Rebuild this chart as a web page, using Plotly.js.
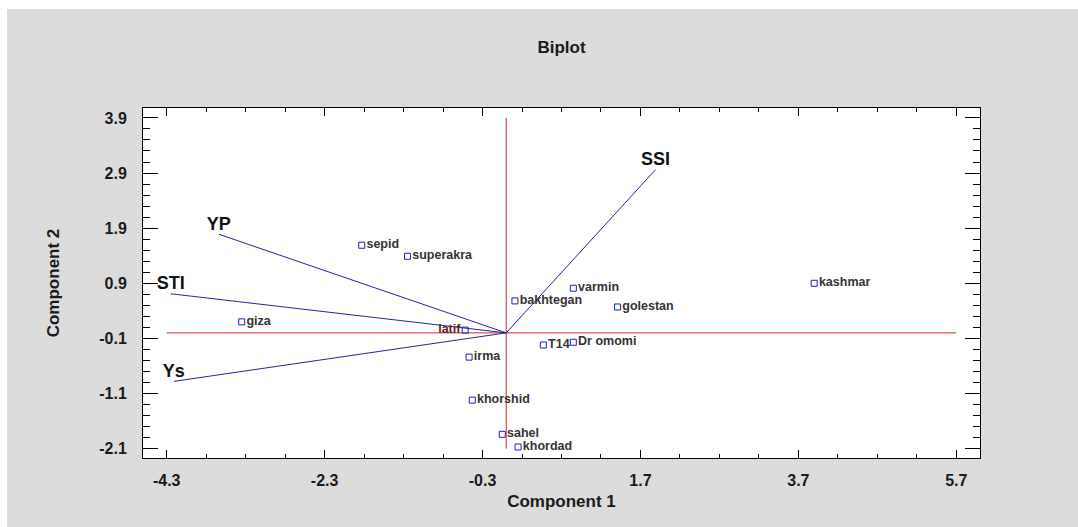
<!DOCTYPE html>
<html>
<head>
<meta charset="utf-8">
<script src="https://cdn.plot.ly/plotly-3.0.1.min.js"></script>
<style>
  html, body { margin: 0; padding: 0; background: #ffffff; width: 1078px; height: 527px; overflow: hidden; }
  #chart { position: absolute; left: 7px; top: 9px; width: 1071px; height: 518px; }
</style>
</head>
<body>
<div id="chart"></div>
<script>
// Genotype scores
const genotypes = ['sepid', 'superakra', 'giza', 'latif', 'bakhtegan', 'varmin', 'golestan', 'kashmar', 'T14', 'Dr omomi', 'irma', 'khorshid', 'sahel', 'khordad'];
const comp1 = [-1.83, -1.25, -3.35, -0.52, 0.11, 0.85, 1.41, 3.90, 0.47, 0.85, -0.47, -0.43, -0.05, 0.15];
const comp2 = [1.59, 1.39, 0.20, 0.05, 0.58, 0.81, 0.47, 0.90, -0.22, -0.17, -0.44, -1.22, -1.84, -2.07];

// Variable vectors
const variables = ['SSI', 'YP', 'STI', 'Ys'];
const load1 = [1.89, -3.64, -4.25, -4.21];
const load2 = [2.96, 1.79, 0.71, -0.88];

// Tick labels
const xTicks = [-4.3, -2.3, -0.3, 1.7, 3.7, 5.7];
const yTicks = [-2.1, -1.1, -0.1, 0.9, 1.9, 2.9, 3.9];

const traces = [];

// Red reference lines through the origin, spanning the tick range
traces.push({
  x: [xTicks[0], xTicks[xTicks.length - 1]], y: [0, 0],
  mode: 'lines', line: {color: '#d42a2a', width: 1}, hoverinfo: 'skip', showlegend: false
});
traces.push({
  x: [0, 0], y: [yTicks[0], yTicks[yTicks.length - 1]],
  mode: 'lines', line: {color: '#d42a2a', width: 1}, hoverinfo: 'skip', showlegend: false
});

// Vectors
variables.forEach((v, i) => {
  traces.push({
    x: [0, load1[i]], y: [0, load2[i]],
    mode: 'lines+text', text: ['', v], textposition: 'top center',
    textfont: {family: 'Liberation Sans, Arial, sans-serif', size: 18, color: '#111111', weight: 'bold'},
    line: {color: '#262690', width: 1}, hoverinfo: 'skip', showlegend: false, cliponaxis: false
  });
});

// Genotype points
traces.push({
  x: comp1, y: comp2, text: genotypes,
  mode: 'markers+text',
  textposition: genotypes.map(g => g === 'latif' ? 'middle left' : 'middle right'),
  textfont: {family: 'Liberation Sans, Arial, sans-serif', size: 12.5, weight: 'bold',
             color: genotypes.map(g => g === 'latif' ? '#6a1e1e' : '#333333')},
  marker: {symbol: 'square-open', size: 6, color: '#1f1fb0', line: {width: 1, color: '#1f1fb0'}},
  hoverinfo: 'text', showlegend: false, cliponaxis: false
});

const tickFont = {family: 'Liberation Sans, Arial, sans-serif', size: 16, color: '#1a1a1a', weight: 'bold'};
const titleFont = {family: 'Liberation Sans, Arial, sans-serif', size: 17, color: '#1a1a1a', weight: 'bold'};

const layout = {
  width: 1071, height: 518,
  paper_bgcolor: '#dcdcdc', plot_bgcolor: '#ffffff',
  margin: {l: 136, r: 98, t: 99, b: 69, pad: 0},
  title: {text: 'Biplot', font: titleFont, x: 0.5, xref: 'paper', xanchor: 'center', y: 0.927, yref: 'container', yanchor: 'middle'},
  showlegend: false,
  xaxis: {
    range: [-4.6, 6.0], tickmode: 'array', tickvals: xTicks, ticktext: xTicks.map(String),
    ticks: 'inside', ticklen: 8, tickwidth: 1, tickcolor: '#000',
    mirror: 'allticks', showline: true, linecolor: '#000', linewidth: 1,
    showgrid: false, zeroline: false, tickfont: tickFont, ticklabelstandoff: 8,
    minor: {dtick: 0.5, tick0: -4.3, ticks: 'inside', ticklen: 4, tickcolor: '#000', showgrid: false},
    title: {text: 'Component 1', font: titleFont, standoff: 6},
    automargin: false
  },
  yaxis: {
    range: [-2.27, 4.08], tickmode: 'array', tickvals: yTicks, ticktext: yTicks.map(String),
    ticks: 'inside', ticklen: 15, tickwidth: 1, tickcolor: '#000',
    mirror: 'allticks', showline: true, linecolor: '#000', linewidth: 1,
    showgrid: false, zeroline: false, tickfont: tickFont, ticklabelstandoff: 12,
    minor: {dtick: 0.2, tick0: -2.1, ticks: 'inside', ticklen: 7, tickcolor: '#000', showgrid: false},
    title: {text: 'Component 2', font: titleFont, standoff: 35},
    automargin: false
  }
};

Plotly.newPlot('chart', traces, layout, {displayModeBar: false, staticPlot: true});
</script>
</body>
</html>
